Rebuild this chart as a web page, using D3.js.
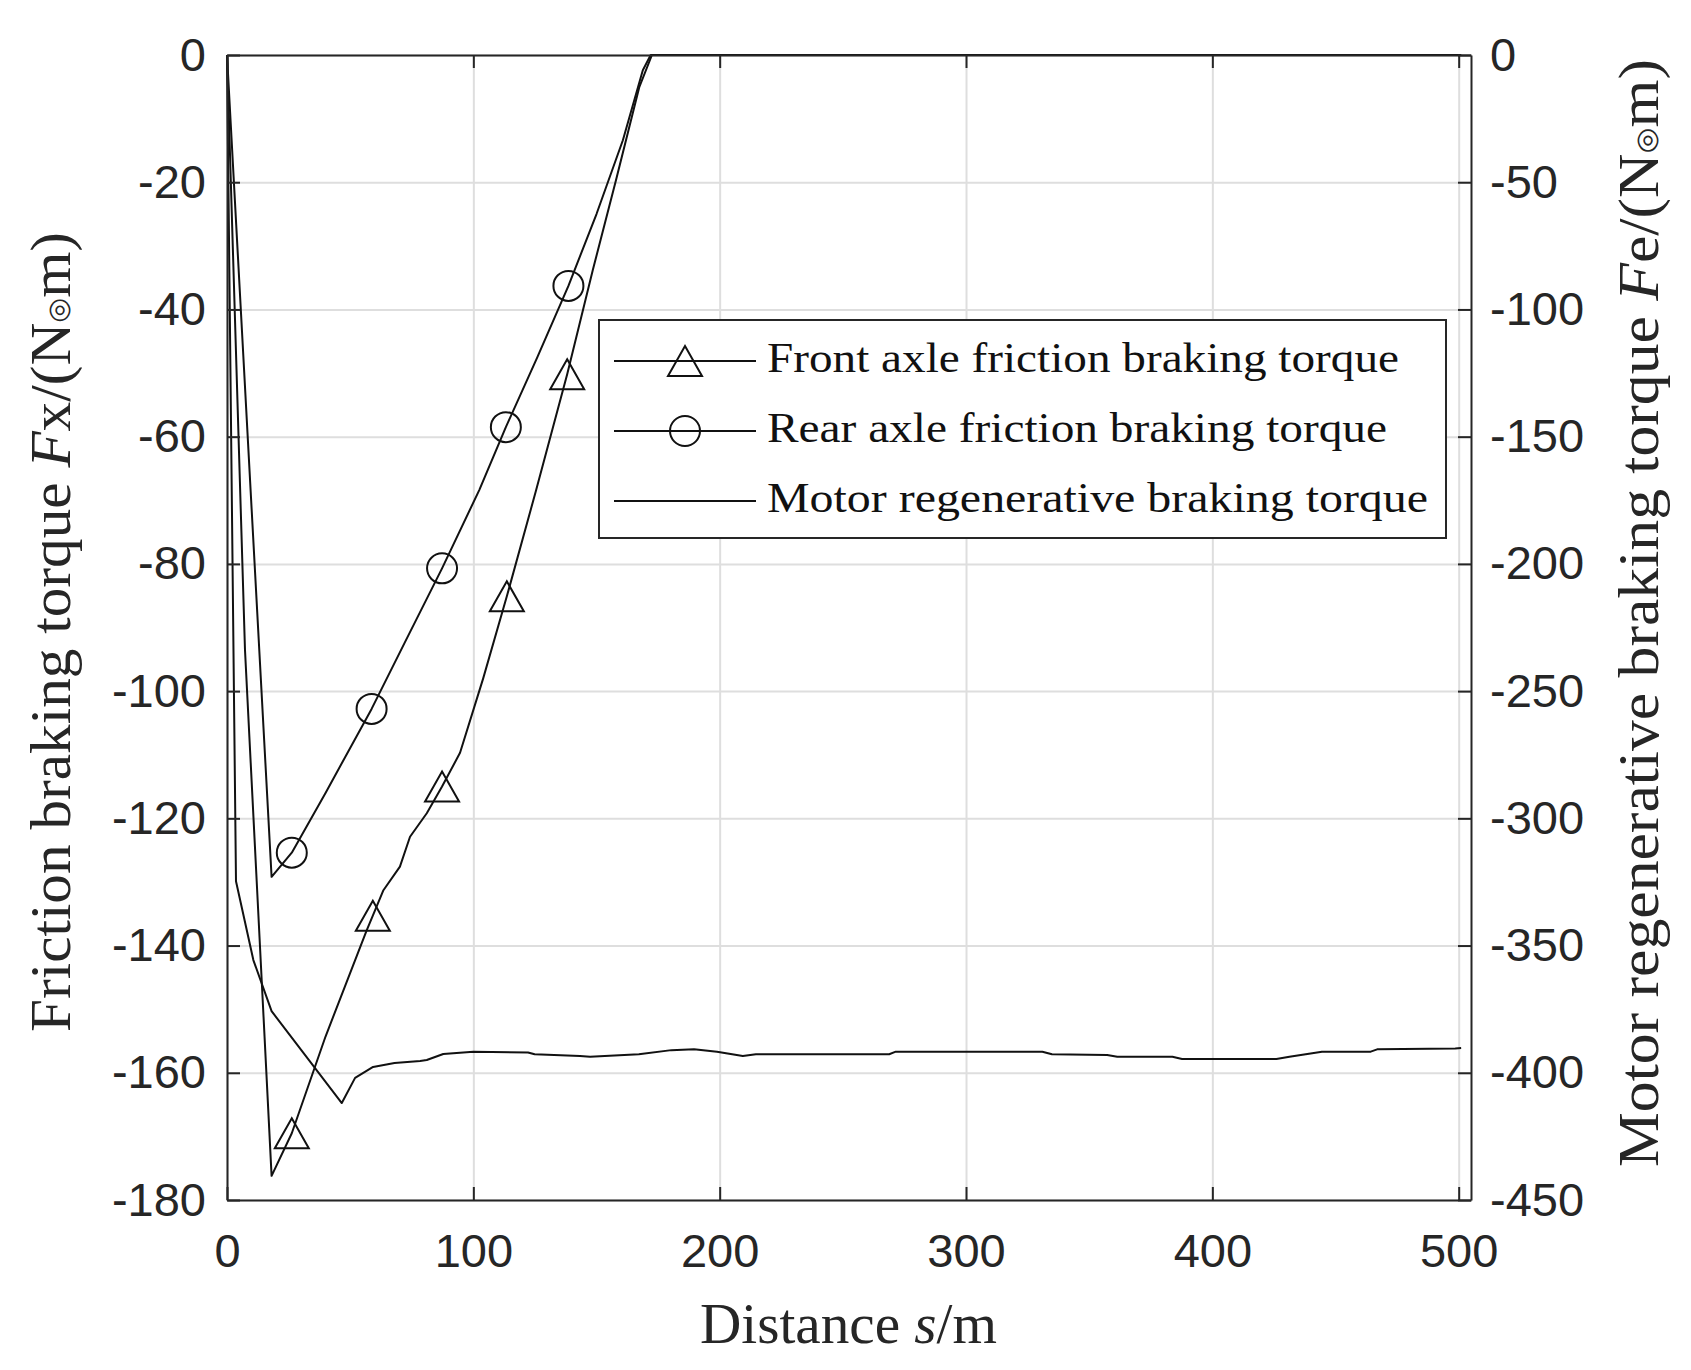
<!DOCTYPE html>
<html>
<head>
<meta charset="utf-8">
<script src="https://cdn.jsdelivr.net/npm/d3@7"></script>
<style>
	body { margin: 0; background: #fff; }
	#chart { width: 1691px; height: 1370px; }
	.grid line { stroke: #dedede; stroke-width: 2; }
	.grid path { display: none; }
	.axis path, .axis line { stroke: #262626; stroke-width: 2; }
	.axis text { font-family: "Liberation Sans", Arial, sans-serif; font-size: 47px; fill: #262626; }
	.curve { fill: none; stroke: #111; stroke-width: 2; stroke-linejoin: round; }
	.marker { fill: none; stroke: #111; stroke-width: 2; }
	.axisLabel { font-family: "Liberation Serif", serif; font-size: 56px; fill: #262626; }
	.legendText { font-family: "Liberation Serif", serif; font-size: 43px; fill: #111; }
	.legendBox { fill: #fff; stroke: #262626; stroke-width: 2; }
</style>
</head>
<body>
<div id="chart"></div>
<script>
"use strict"

// values
const frontDist   = [0, 7.3, 18.1, 26.3, 40, 56.7, 59.2, 63.5, 70.2, 74.3, 81.1, 87.3, 94.6, 104, 113.6, 125.5, 138.1, 148.5, 157.9, 167.4, 172.5, 501];
const frontTorque = [0, -93.5, -176.2, -169.5, -154.3, -137.6, -135.3, -131.3, -127.6, -122.9, -119.2, -115.0, -109.7, -98, -85.1, -68.4, -50.2, -33.8, -19.7, -5.0, 0, 0];
const frontMarkers = [26.3, 59.2, 87.3, 113.6, 138.1];

const rearDist   = [0, 18.1, 26.3, 40, 58.7, 72, 87.3, 102.4, 113.2, 126, 138.6, 150, 160.7, 168.8, 172, 501];
const rearTorque = [0, -129.2, -125.4, -116, -102.8, -92.5, -80.7, -68.4, -58.5, -47.5, -36.3, -25, -13.4, -2.4, 0, 0];
const rearMarkers = [26.3, 58.7, 87.3, 113.2, 138.6];

// motor torque is read on the right axis
const motorDist   = [0, 3.65, 10.7, 18.1, 46.6, 52, 59.3, 68, 78.4, 81.1, 87.8, 100, 122.2, 124.9, 143.3, 147.4, 167.2, 180.4, 189.6, 198.9, 209.4, 214.7, 268.8, 271.5, 331, 334.9, 357.3, 361.4, 383.8, 387.7, 426, 431.3, 444.5, 464.3, 466.9, 498.6, 501];
const motorTorque = [0, -324.7, -355.7, -375.8, -411.9, -402, -397.7, -396.2, -395.4, -395.0, -392.6, -391.7, -392.0, -392.7, -393.4, -393.7, -392.7, -391.1, -390.8, -391.7, -393.4, -392.7, -392.7, -391.7, -391.7, -392.7, -393.0, -393.7, -393.7, -394.6, -394.6, -393.7, -391.7, -391.7, -390.8, -390.5, -390.3];

const xTicks = [0, 100, 200, 300, 400, 500];
const yLeftTicks = [0, -20, -40, -60, -80, -100, -120, -140, -160, -180];
const yRightTicks = [0, -50, -100, -150, -200, -250, -300, -350, -400, -450];
const xDomain = [0, 505];
const yLeftDomain = [-180, 0];
const yRightDomain = [-450, 0];

const legendLabels = ["Front axle friction braking torque", "Rear axle friction braking torque", "Motor regenerative braking torque"];

let BrakingTorqueView = function(targetID) {
	let self = {
		targetID: "",
		target: null,
		totalWidth: 1691,
		totalHeight: 1370,
		width: "",
		height: "",
		margin: { left: 227, right: 220, top: 55, bottom: 170 },
		targetSvg: null,
		targetEle: null,

		xScale: d3.scaleLinear(),
		yLeft: d3.scaleLinear(),
		yRight: d3.scaleLinear(),
		tickLen: 13,
		series: [],
	}

	init();

	function init() {
		self.targetID = targetID;
		self.series = [
			{ name: legendLabels[0], pts: d3.zip(frontDist, frontTorque), scale: "yLeft", markers: frontMarkers, symbol: "triangle" },
			{ name: legendLabels[1], pts: d3.zip(rearDist, rearTorque), scale: "yLeft", markers: rearMarkers, symbol: "circle" },
			{ name: legendLabels[2], pts: d3.zip(motorDist, motorTorque), scale: "yRight", markers: [], symbol: null },
		];
	}

	function markerPath(symbol) {
		if (symbol == "triangle") {
			return "M0,-15L17,15L-17,15Z";
		}
		return d3.arc()({ innerRadius: 0, outerRadius: 15, startAngle: 0, endAngle: 2 * Math.PI });
	}

	function draw() {
		initTarget();

		// grid
		self.targetEle.append("g")
			.attr("class", "grid")
			.attr("transform", `translate(0,${self.height})`)
			.call(d3.axisBottom(self.xScale).tickValues(xTicks).tickSize(-self.height).tickFormat(""));
		self.targetEle.append("g")
			.attr("class", "grid")
			.call(d3.axisLeft(self.yLeft).tickValues(yLeftTicks).tickSize(-self.width).tickFormat(""));

		// curves
		self.series.forEach(s => {
			let y = self[s.scale];
			let line = d3.line().x(d => self.xScale(d[0])).y(d => y(d[1]));
			self.targetEle.append("path")
				.datum(s.pts)
				.attr("class", "curve")
				.attr("d", line);

			self.targetEle.selectAll(null)
				.data(s.pts.filter(d => s.markers.indexOf(d[0]) != -1))
				.enter().append("path")
					.attr("class", "marker")
					.attr("transform", d => `translate(${self.xScale(d[0])},${y(d[1])})`)
					.attr("d", markerPath(s.symbol));
		});

		// axes (ticks point inward)
		let fmt = d => String(d);
		self.targetEle.append("g")
			.attr("class", "axis x")
			.attr("transform", `translate(0,${self.height})`)
			.call(d3.axisBottom(self.xScale).tickValues(xTicks).tickSizeInner(-self.tickLen).tickSizeOuter(0).tickPadding(34).tickFormat(fmt));
		self.targetEle.append("g")
			.attr("class", "axis xtop")
			.call(d3.axisTop(self.xScale).tickValues(xTicks).tickSizeInner(-self.tickLen).tickSizeOuter(0).tickFormat(""));
		self.targetEle.append("g")
			.attr("class", "axis y")
			.call(d3.axisLeft(self.yLeft).tickValues(yLeftTicks).tickSizeInner(-self.tickLen).tickSizeOuter(0).tickPadding(21).tickFormat(fmt));
		self.targetEle.append("g")
			.attr("class", "axis yr")
			.attr("transform", `translate(${self.width},0)`)
			.call(d3.axisRight(self.yRight).tickValues(yRightTicks).tickSizeInner(-self.tickLen).tickSizeOuter(0).tickPadding(19).tickFormat(fmt));

		drawLabels();
		drawLegend();
	}

	function unitTspans(txt, prefix, sub) {
		txt.append("tspan").text(prefix);
		txt.append("tspan").attr("font-style", "italic").text("F");
		txt.append("tspan").text(sub + "/(N");
		txt.append("tspan").attr("font-size", "27px").attr("font-family", "DejaVu Sans").attr("dy", -3).text("\u25CE");
		txt.append("tspan").attr("dy", 3).text("m)");
	}

	function drawLabels() {
		let xl = self.targetSvg.append("text")
			.attr("class", "axisLabel")
			.attr("x", 700)
			.attr("y", 1343)
			.attr("textLength", 297)
			.attr("lengthAdjust", "spacingAndGlyphs");
		xl.append("tspan").text("Distance ");
		xl.append("tspan").attr("font-style", "italic").text("s");
		xl.append("tspan").text("/m");

		let yl = self.targetSvg.append("text")
			.attr("class", "axisLabel")
			.attr("transform", "translate(70,1032)rotate(-90)")
			.attr("textLength", 800)
			.attr("lengthAdjust", "spacingAndGlyphs");
		unitTspans(yl, "Friction braking torque ", "x");

		let yr = self.targetSvg.append("text")
			.attr("class", "axisLabel")
			.attr("transform", "translate(1658,1167)rotate(-90)")
			.attr("textLength", 1108)
			.attr("lengthAdjust", "spacingAndGlyphs");
		unitTspans(yr, "Motor regenerative braking torque ", "e");
	}

	function drawLegend() {
		let lg = self.targetSvg.append("g")
			.attr("class", "legend")
			.attr("transform", "translate(599,320)");
		lg.append("rect")
			.attr("class", "legendBox")
			.attr("width", 847)
			.attr("height", 218);

		let textLen = [632, 620, 661];
		let rows = lg.selectAll(".legendRow")
			.data(self.series)
			.enter().append("g")
				.attr("class", "legendRow")
				.attr("transform", (d, i) => `translate(0,${41 + i * 70})`);
		rows.append("line")
			.attr("class", "curve")
			.attr("x1", 15).attr("x2", 157);
		rows.filter(d => d.symbol)
			.append("path")
				.attr("class", "marker")
				.attr("transform", "translate(86,0)")
				.attr("d", d => markerPath(d.symbol));
		rows.append("text")
			.attr("class", "legendText")
			.attr("x", 168)
			.attr("y", 11)
			.attr("textLength", (d, i) => textLen[i])
			.attr("lengthAdjust", "spacingAndGlyphs")
			.text(d => d.name);
	}

	function initTarget() {
		self.target = d3.select(self.targetID);

		self.width = self.totalWidth - self.margin.left - self.margin.right;
		self.height = self.totalHeight - self.margin.top - self.margin.bottom;

		self.targetSvg = self.target.append("svg")
			.attr("width", self.totalWidth)
			.attr("height", self.totalHeight);
		self.targetEle = self.targetSvg.append("g")
			.attr("transform", `translate(${self.margin.left},${self.margin.top})`);

		self.xScale.domain(xDomain).range([0, self.width]);
		self.yLeft.domain(yLeftDomain).range([self.height, 0]);
		self.yRight.domain(yRightDomain).range([self.height, 0]);
	}

	return {
		draw,
	};
}

BrakingTorqueView("#chart").draw();
</script>
</body>
</html>
